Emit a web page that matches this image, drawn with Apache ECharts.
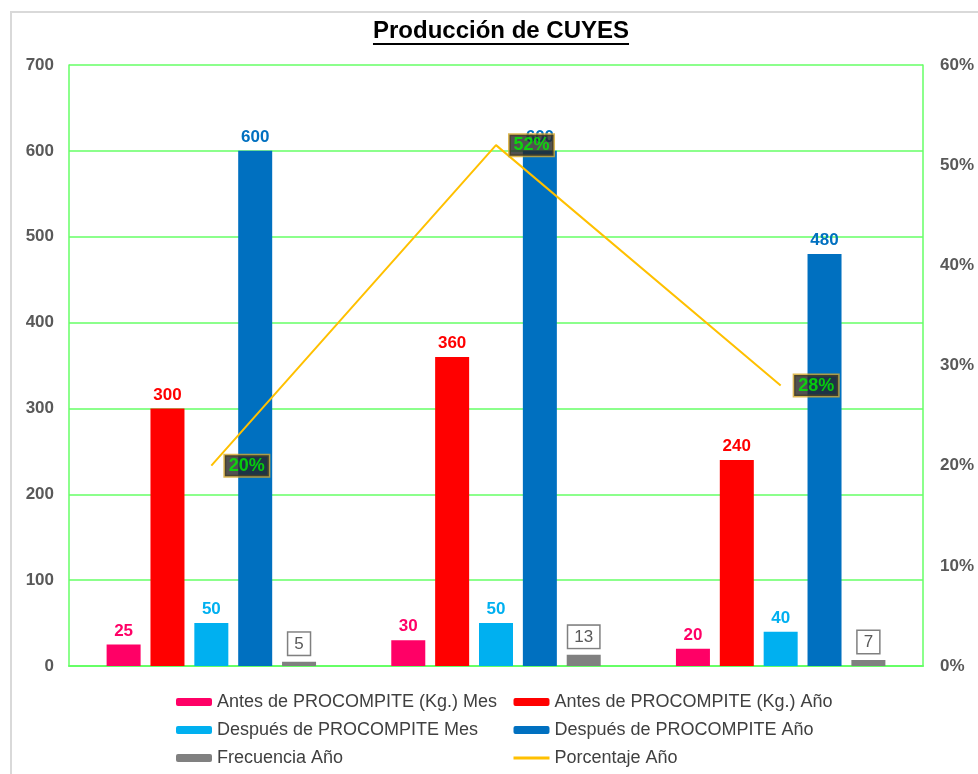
<!DOCTYPE html>
<html>
<head>
<meta charset="utf-8">
<script src="https://cdn.jsdelivr.net/npm/echarts@6/dist/echarts.min.js"></script>
<style>
  html, body { margin: 0; padding: 0; background: #fff; }
  #chart { width: 978px; height: 774px; }
</style>
</head>
<body>
<div id="chart"></div>
<script>
// data
const categories = ['1', '2', '3'];
const antesMes = [25, 30, 20];
const antesAnio = [300, 360, 240];
const despuesMes = [50, 50, 40];
const despuesAnio = [600, 600, 480];
const frecuenciaAnio = [5, 13, 7];
const porcentajeAnio = [0.20, 0.52, 0.28];
const leftTicks = { min: 0, max: 700, interval: 100 };
const rightTicks = { min: 0, max: 0.6, interval: 0.1 };

const FONT = 'Liberation Sans, Arial, sans-serif';
const GREEN = '#66ff66';
const titleText = 'Producción de CUYES';

const chart = echarts.init(document.getElementById('chart'));

// measure title for the underline
const ctx = document.createElement('canvas').getContext('2d');
ctx.font = 'bold 24px ' + FONT;
const titleW = ctx.measureText(titleText).width;
const titleCx = 501;

function barLabel(color) {
    return { show: true, position: 'top', distance: 5, color: color, fontWeight: 'bold', fontSize: 17, fontFamily: FONT };
}

function bar(name, data, color) {
    return {
        name: name, type: 'bar', data: data, barWidth: 34, barGap: '29%',
        itemStyle: { color: color }, label: barLabel(color)
    };
}

const legendText = { fontSize: 18, fontFamily: FONT, color: '#404040', lineHeight: 28 };

chart.setOption({
    animation: false,
    grid: { left: 69, right: 55, top: 65, bottom: 108 },
    graphic: [
        { type: 'rect', shape: { x: 11, y: 12, width: 1000, height: 800 }, style: { fill: 'none', stroke: '#d9d9d9', lineWidth: 2 } },
        { type: 'text', x: titleCx, y: 31, style: { text: titleText, font: 'bold 24px ' + FONT, fill: '#000', align: 'center', verticalAlign: 'middle' } },
        { type: 'line', shape: { x1: titleCx - titleW / 2, y1: 44, x2: titleCx + titleW / 2, y2: 44 }, style: { stroke: '#000', lineWidth: 2 } }
    ],
    legend: [
        {
            orient: 'vertical', left: 171, top: 683, height: 120, itemWidth: 36, itemHeight: 8, itemGap: 0,
            textStyle: legendText,
            data: ['Antes de PROCOMPITE (Kg.) Mes', 'Después de PROCOMPITE Mes', 'Frecuencia Año']
        },
        {
            orient: 'vertical', left: 507, top: 683, height: 120, itemWidth: 36, itemHeight: 8, itemGap: 0,
            textStyle: legendText,
            data: ['Antes de PROCOMPITE (Kg.) Año', 'Después de PROCOMPITE Año',
                { name: 'Porcentaje Año', itemStyle: { opacity: 0 }, lineStyle: { width: 3 } }]
        }
    ],
    xAxis: {
        type: 'category', data: categories,
        axisLine: { lineStyle: { color: GREEN, width: 2 } },
        axisTick: { show: false }, axisLabel: { show: false }
    },
    yAxis: [
        {
            type: 'value', min: leftTicks.min, max: leftTicks.max, interval: leftTicks.interval,
            axisLine: { show: true, lineStyle: { color: GREEN, width: 1.5 } },
            axisTick: { show: false },
            axisLabel: { color: '#595959', fontWeight: 'bold', fontSize: 17, fontFamily: FONT, margin: 15 },
            splitLine: { lineStyle: { color: GREEN, width: 1.5 } }
        },
        {
            type: 'value', min: rightTicks.min, max: rightTicks.max, interval: rightTicks.interval,
            axisLine: { show: true, lineStyle: { color: GREEN, width: 1.5 } },
            axisTick: { show: false },
            axisLabel: { color: '#595959', fontWeight: 'bold', fontSize: 17, fontFamily: FONT, margin: 17,
                formatter: v => Math.round(v * 100) + '%' },
            splitLine: { show: false }
        }
    ],
    series: [
        bar('Antes de PROCOMPITE (Kg.) Mes', antesMes, '#ff0066'),
        bar('Antes de PROCOMPITE (Kg.) Año', antesAnio, '#ff0000'),
        bar('Después de PROCOMPITE Mes', despuesMes, '#00b0f0'),
        bar('Después de PROCOMPITE Año', despuesAnio, '#0070c0'),
        {
            name: 'Frecuencia Año', type: 'bar', data: frecuenciaAnio, barWidth: 34, barGap: '29%',
            itemStyle: { color: '#808080' },
            label: {
                show: true, position: 'top', distance: 7, color: '#595959', fontSize: 17, fontFamily: FONT,
                backgroundColor: '#fff', borderColor: '#808080', borderWidth: 1.5, padding: [3, 6, 2, 6]
            }
        },
        {
            name: 'Porcentaje Año', type: 'line', yAxisIndex: 1, data: porcentajeAnio,
            symbol: 'none', lineStyle: { color: '#ffc000', width: 2 }, itemStyle: { color: '#ffc000' }, z: 5
        },
        {
            // carries the percentage labels of the line
            name: 'Porcentaje etiquetas', type: 'scatter', yAxisIndex: 1, data: porcentajeAnio,
            symbolSize: 1, itemStyle: { color: 'rgba(0,0,0,0)' }, z: 6, silent: true,
            label: {
                show: true, position: 'right', distance: 13, formatter: p => Math.round(p.value * 100) + '%',
                color: '#00f000', fontWeight: 'bold', fontSize: 18, fontFamily: FONT,
                backgroundColor: '#262626', borderColor: '#d4a72c', borderWidth: 1.5, padding: [2, 4, 1, 4]
            }
        }
    ]
});
</script>
</body>
</html>
